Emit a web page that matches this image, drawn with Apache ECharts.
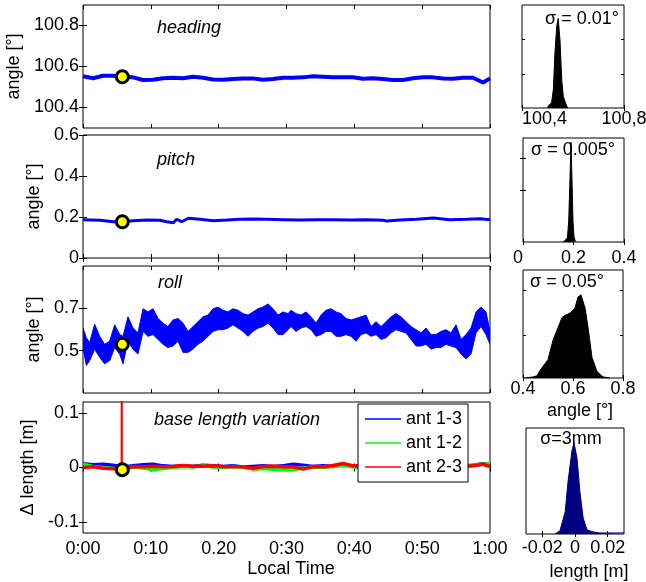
<!DOCTYPE html>
<html><head><meta charset="utf-8">
<script src="https://cdn.jsdelivr.net/npm/echarts@6/dist/echarts.min.js"></script>
<style>html,body{margin:0;padding:0;background:#fff}#c{width:646px;height:582px}</style>
</head><body><div id="c"></div><script>
// ---------------- DATA ----------------
const timeTicks = [0,10,20,30,40,50,60];
const timeTickLabels = ['0:00','0:10','0.20','0:30','0:40','0:50','1:00'];

const headingTicks = [100.4,100.6,100.8];
const headingTickLabels = ['100.4','100.6','100.8'];
const pitchTicks = [0,0.2,0.4,0.6];
const pitchTickLabels = ['0','0.2','0.4','0.6'];
const rollTicks = [0.5,0.7];
const rollTickLabels = ['0.5','0.7'];
const baseTicks = [-0.1,0,0.1];
const baseTickLabels = ['-0.1','0','0.1'];

// shared time samples (minutes) for heading and base length
const sampleTimes = [0,1.47,2.95,4.42,5.90,7.37,8.85,10.32,11.79,13.27,14.74,16.22,17.69,19.17,20.64,22.11,23.59,25.06,26.54,28.01,29.49,30.96,32.43,33.91,35.38,36.86,38.33,39.80,41.28,42.75,44.23,45.70,47.17,48.65,50.12,51.60,53.07,54.54,56.02,57.49,58.97,60];
const headingValues = [100.552,100.543,100.555,100.555,100.550,100.547,100.534,100.535,100.543,100.545,100.543,100.550,100.545,100.537,100.535,100.539,100.542,100.542,100.535,100.539,100.545,100.545,100.547,100.552,100.550,100.548,100.548,100.548,100.540,100.543,100.539,100.534,100.534,100.543,100.548,100.547,100.542,100.540,100.545,100.545,100.522,100.542];

const pitchTimes = [0,2.51,4.47,5.85,7.42,9.39,11.35,12.33,13.32,13.81,14.54,15.53,17.25,19.21,21.18,23.14,25.11,27.08,29.53,31.99,34.45,36.90,39.36,41.82,44.28,44.77,46.73,49.19,51.65,54.10,56.56,58.53,60];
const pitchValues = [0.187,0.184,0.177,0.177,0.182,0.185,0.184,0.177,0.172,0.189,0.177,0.194,0.189,0.182,0.185,0.189,0.190,0.189,0.187,0.185,0.187,0.187,0.185,0.187,0.184,0.180,0.185,0.189,0.195,0.187,0.189,0.192,0.187];

const rollTimes = [0,0.49,0.98,1.72,2.46,3.19,3.93,4.67,5.41,5.90,6.63,7.37,8.11,8.85,9.58,10.32,11.06,11.79,12.53,13.27,14.01,14.74,15.48,16.22,16.95,17.69,18.43,19.17,19.90,20.64,21.38,22.11,22.85,23.59,24.33,25.06,25.80,26.54,27.27,28.01,28.75,29.49,30.22,
  30.67,31.40,32.14,32.88,33.62,34.35,35.09,35.83,36.56,37.30,38.04,38.78,39.51,40.25,40.99,41.72,42.46,43.20,43.94,44.67,45.41,46.15,46.88,47.62,48.36,49.10,49.83,50.57,51.31,52.04,52.78,53.52,54.25,54.99,55.73,56.47,57.20,57.94,58.68,59.41,60];
const rollHigh = [0.607,0.561,0.538,0.625,0.568,0.530,0.545,0.622,0.576,0.568,0.660,0.607,0.584,0.698,0.683,0.698,0.652,0.630,0.614,0.645,0.652,0.630,0.591,0.614,0.637,0.660,0.668,0.698,0.706,0.691,0.683,0.698,0.691,0.675,0.668,0.683,0.698,0.706,0.721,0.698,0.668,0.683,0.675,
  0.691,0.675,0.668,0.683,0.660,0.630,0.668,0.691,0.698,0.683,0.675,0.652,0.645,0.652,0.660,0.668,0.614,0.637,0.614,0.637,0.660,0.675,0.660,0.637,0.614,0.599,0.584,0.607,0.576,0.576,0.591,0.599,0.584,0.622,0.553,0.576,0.607,0.683,0.706,0.683,0.591];
const rollLow = [0.515,0.430,0.453,0.507,0.469,0.438,0.453,0.515,0.484,0.438,0.545,0.507,0.484,0.591,0.568,0.576,0.553,0.530,0.515,0.522,0.545,0.492,0.492,0.507,0.530,0.545,0.568,0.591,0.599,0.599,0.607,0.622,0.607,0.591,0.568,0.591,0.607,0.614,0.630,0.607,0.576,0.576,0.599,
  0.614,0.591,0.607,0.614,0.599,0.568,0.576,0.591,0.591,0.568,0.568,0.576,0.568,0.545,0.576,0.584,0.568,0.576,0.553,0.561,0.584,0.599,0.591,0.584,0.553,0.522,0.522,0.530,0.507,0.515,0.515,0.530,0.522,0.515,0.484,0.461,0.484,0.584,0.614,0.576,0.530];

const ant13 = [0.007,0.005,0.006,0.004,0.001,0.003,0.005,0.006,0.003,0.002,0.003,0.002,0.004,0.003,0.002,0.003,0.001,0.002,0.003,0.002,0.003,0.006,0.004,0.002,0.003,0.002,0.005,0.003,0.002,0.003,0.002,0.002,0.003,0.002,0.002,0.003,0.002,0.003,0.003,0.004,0.007,0.005];
const ant12 = [0.006,0.002,0,-0.002,-0.002,0.001,-0.001,-0.004,-0.002,0,0.002,0.001,0.003,0.001,0,0.002,0.001,-0.003,-0.002,-0.003,-0.004,-0.004,-0.001,0.001,0,0.002,0.004,0.001,0,0.001,0.002,0,0.001,0.002,0.001,0,0.002,0.001,0.002,0.004,0.006,0.007];
const ant23 = [0,0.0012,-0.0012,-0.0024,-0.003,0.0018,0.0012,0.0024,0.0012,0.0018,0.0036,0.0024,0.0024,0.003,0.0018,0.0012,0.0012,-0.0012,0.0018,0.0024,0.0012,0.0012,-0.003,0.0018,0.0012,0.0036,0.0073,0.003,0.002,0.001,0,0.001,0.002,0.001,0,0.001,0.002,0.001,0.002,0.003,0.006,0.0018];
const ant23SpikeTimes = [5.69,5.71,5.73];
const ant23SpikeValues = [-0.003,0.3,-0.003];

const markerTime = 5.8;
const markerValues = [100.55,0.177,0.53,-0.004];

// histograms (relative counts, 0-100)
const hist1X = [100.500,100.503,100.516,100.523,100.529,100.536,100.542,100.549,100.556,100.562,100.569,100.575,100.580];
const hist1Y = [0,2,5,18,53,79,87,66,27,11,6,2,0];
const hist2X = [0.160,0.166,0.176,0.181,0.186,0.190,0.194,0.198,0.202,0.207,0.212];
const hist2Y = [0,1,4,20,60,96,60,20,5,1,0];
const hist3X = [0.408,0.44,0.456,0.468,0.5,0.52,0.556,0.568,0.588,0.608,0.62,0.632,0.648,0.66,0.676,0.696,0.72,0.748];
const hist3Y = [0,1,2,7,17,35,56,58,60,65,75,77,65,47,19,6,1,0];
const hist4X = [-0.0122,-0.0092,-0.006,-0.0043,-0.0018,-0.0006,0.0012,0.003,0.005,0.0073,0.011,0.015,0.03];
const hist4Y = [0,3,21,49,79,86,72,40,15,4,2,1,1];

const hist1Ticks = [100.4,100.8], hist1TickLabels = ['100,4','100,8'];
const hist2Ticks = [0,0.2,0.4], hist2TickLabels = ['0','0.2','0.4'];
const hist3Ticks = [0.4,0.6,0.8], hist3TickLabels = ['0.4','0.6','0.8'];
const hist4Ticks = [-0.02,0,0.02], hist4TickLabels = ['-0.02','0','0.02'];

const panelTitles = ['heading','pitch','roll','base length variation'];
const sigmaTexts = ['σ = 0.01°','σ = 0.005°','σ = 0.05°','σ=3mm'];
const antNames = ['ant 1-3','ant 1-2','ant 2-3'];

// ---------------- LAYOUT / STYLE ----------------
const FONT = 'Liberation Sans';
const FS = 18;
const gridBoxes = [
  {left:83, top:5, width:407, height:123},
  {left:83, top:135, width:407, height:123},
  {left:83, top:266, width:407, height:127},
  {left:83, top:402, width:407, height:131},
  {left:522, top:5, width:102, height:103},
  {left:523, top:138, width:101, height:104},
  {left:523, top:270, width:100, height:108},
  {left:526, top:428, width:98, height:106}
];
const grid = gridBoxes.map(b => Object.assign({show:true, borderColor:'#000', borderWidth:1, backgroundColor:'#fff', containLabel:false, outerBoundsMode:'none'}, b));

function lab(ticks, labels){
  return v => { let b=0; for (let i=1;i<ticks.length;i++) if (Math.abs(ticks[i]-v) < Math.abs(ticks[b]-v)) b=i; return labels[b]; };
}
const xAxis = [], yAxis = [];
function addX(g, c){
  const base = {gridIndex:g, type:'value', min:c.min, max:c.max, splitLine:{show:false}, axisLine:{show:false}};
  const tick = {show:true, inside:true, length:c.tickLen, customValues:c.ticks, lineStyle:{color:'#000', width:1}};
  xAxis.push(Object.assign({}, base, {position:'bottom', axisTick:tick,
    axisLabel: c.labels ? {show:true, customValues:c.ticks, formatter:lab(c.ticks,c.labels), fontSize:FS, fontFamily:FONT, color:'#000', margin:c.margin, alignMinLabel:c.alignMin} : {show:false},
    name:c.name||'', nameLocation:'middle', nameGap:c.nameGap||0,
    nameTextStyle:{fontSize:FS, fontFamily:FONT, color:'#000', padding:c.namePad||0}}));
  xAxis.push(Object.assign({}, base, {position:'top', axisTick:tick, axisLabel:{show:false}}));
}
function addY(g, c){
  const base = {gridIndex:g, type:'value', min:c.min, max:c.max, splitLine:{show:false}, axisLine:{show:false}};
  const tick = {show:true, inside:true, length:c.tickLen, customValues:c.ticks, lineStyle:{color:'#000', width:1}};
  yAxis.push(Object.assign({}, base, {position:'left', axisTick:tick,
    axisLabel: c.labels ? {show:true, customValues:c.ticks, formatter:lab(c.ticks,c.labels), fontSize:FS, fontFamily:FONT, color:'#000', margin:4} : {show:false},
    name:c.name||'', nameLocation:'middle', nameGap:c.nameGap||0, nameRotate:90,
    nameTextStyle:{fontSize:FS, fontFamily:FONT, color:'#000'}}));
  yAxis.push(Object.assign({}, base, {position:'right', axisTick:tick, axisLabel:{show:false}}));
}
// main panels
const mainY = [
  {min:100.3, max:100.9, ticks:headingTicks, labels:headingTickLabels, name:'angle [°]', nameGap:55},
  {min:0, max:0.6, ticks:pitchTicks, labels:pitchTickLabels, name:'angle [°]', nameGap:40},
  {min:0.3, max:0.9, ticks:rollTicks, labels:rollTickLabels, name:'angle [°]', nameGap:40},
  {min:-0.12, max:0.12, ticks:baseTicks, labels:baseTickLabels, name:'Δ length [m]', nameGap:40}
];
for (let g=0; g<4; g++){
  addX(g, {min:0, max:60, ticks:timeTicks, tickLen:4, labels: g===3 ? timeTickLabels : null, margin:7,
           name: g===3 ? 'Local Time' : '', nameGap:27, namePad:[0,0,0,9]});
  addY(g, Object.assign({tickLen:4}, mainY[g]));
}
// histograms
const histX = [
  {min:100.4, max:100.8, ticks:hist1Ticks, labels:hist1TickLabels, margin:2, alignMin:'left'},
  {min:0, max:0.4, ticks:hist2Ticks, labels:hist2TickLabels, margin:7, alignMin:'right'},
  {min:0.4, max:0.8, ticks:hist3Ticks, labels:hist3TickLabels, margin:2, name:'angle [°]', nameGap:24, namePad:[0,0,0,14]},
  {min:-0.03, max:0.03, ticks:hist4Ticks, labels:hist4TickLabels, margin:5, name:'length [m]', nameGap:29, namePad:[0,0,0,28]}
];
const histYTicks = [[33,67],[50,81],[40,81],[51]];
for (let h=0; h<4; h++){
  addX(4+h, Object.assign({tickLen:3}, histX[h]));
  addY(4+h, {min:0, max:100, ticks:histYTicks[h], tickLen:3});
}

const BLUE='#0000ff', GREEN='#00ff00', RED='#ff0000';
function lineSeries(name, g, xs, ys, color, width, extra){
  return Object.assign({name, type:'line', xAxisIndex:2*g, yAxisIndex:2*g, showSymbol:false, symbol:'none',
    data: xs.map((t,i)=>[t, ys[i]]), lineStyle:{color, width}, itemStyle:{color}, silent:true, z:2}, extra||{});
}
const series = [];
series.push(lineSeries('heading', 0, sampleTimes, headingValues, BLUE, 4));
series.push(lineSeries('pitch', 1, pitchTimes, pitchValues, BLUE, 3));
// roll: filled band between low and high envelopes, positioned through the axis scales
series.push({name:'roll', type:'custom', xAxisIndex:4, yAxisIndex:4, clip:true, silent:true, z:2,
  data: rollTimes.map((t,i)=>[t, rollLow[i], rollHigh[i]]),
  encode:{x:0, y:[1,2]},
  renderItem:(params, api)=>{
    if (params.dataIndex !== 0) return null;
    const pts = [];
    for (let i=0;i<rollTimes.length;i++) pts.push(api.coord([rollTimes[i], rollHigh[i]]));
    for (let i=rollTimes.length-1;i>=0;i--) pts.push(api.coord([rollTimes[i], rollLow[i]]));
    return {type:'polygon', shape:{points:pts}, style:{fill:BLUE, stroke:BLUE, lineWidth:1}};
  }});
series.push(lineSeries(antNames[0], 3, sampleTimes, ant13, BLUE, 3.5));
series.push(lineSeries(antNames[1], 3, sampleTimes, ant12, GREEN, 3.5));
series.push(lineSeries(antNames[2], 3, ant23SpikeTimes, ant23SpikeValues, RED, 2));
series.push(lineSeries(antNames[2], 3, sampleTimes, ant23, RED, 3.5));
for (let g=0; g<4; g++){
  series.push({type:'scatter', xAxisIndex:2*g, yAxisIndex:2*g, data:[[markerTime, markerValues[g]]], symbol:'circle', symbolSize:12,
    itemStyle:{color:'#ffff00', borderColor:'#000', borderWidth:3, opacity:1}, z:5, silent:true});
}
const hists = [[hist1X,hist1Y,'#000'],[hist2X,hist2Y,'#000'],[hist3X,hist3Y,'#000'],[hist4X,hist4Y,'#000080']];
hists.forEach((h,i)=>{
  series.push(lineSeries('hist'+i, 4+i, h[0], h[1], h[2], 1, {areaStyle:{color:h[2], opacity:1}}));
});

const titlePos = [[157,28],[157,160],[158,283],[154,420]];
const sigmaPos = [[582,19],[573,150],[567,282],[571,439]];
const graphic = [];
panelTitles.forEach((t,i)=>graphic.push({type:'text', x:titlePos[i][0], y:titlePos[i][1], z:50,
  style:{text:t, font:'italic '+FS+'px "'+FONT+'"', fill:'#000', verticalAlign:'middle', align:'left'}}));
sigmaTexts.forEach((t,i)=>graphic.push({type:'text', x:sigmaPos[i][0], y:sigmaPos[i][1], z:50,
  style:{text:t, font:FS+'px "'+FONT+'"', fill:'#000', verticalAlign:'middle', align:'center'}}));

const option = {
  animation:false,
  textStyle:{fontFamily:FONT},
  grid, xAxis, yAxis, series, graphic,
  legend:{data:antNames, orient:'vertical', left:358, top:404, icon:'rect', itemWidth:36, itemHeight:1.5, itemGap:6,
    padding:[6,6,6,7], backgroundColor:'#fff', borderColor:'#000', borderWidth:1, borderRadius:0, selectedMode:false,
    textStyle:{fontSize:FS, fontFamily:FONT, color:'#000'}, z:10}
};
const chart = echarts.init(document.getElementById('c'), null, {renderer:'canvas', width:646, height:582});
chart.setOption(option);
</script></body></html>
